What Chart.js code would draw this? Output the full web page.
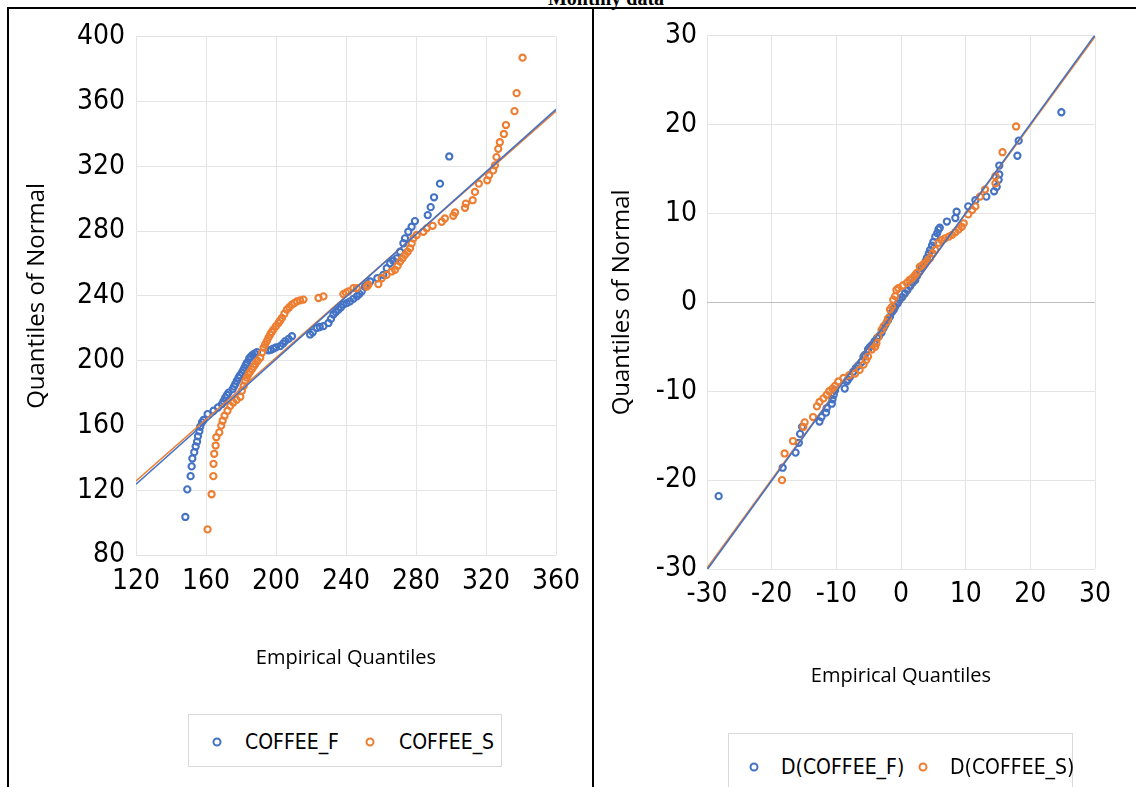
<!DOCTYPE html>
<html>
<head>
<meta charset="utf-8">
<script src="https://cdn.jsdelivr.net/npm/chart.js@4.4.0/dist/chart.umd.min.js"></script>
<style>
  html, body { margin: 0; padding: 0; background: #fff; }
  body { width: 1136px; height: 787px; position: relative; overflow: hidden; }
  .rule { position: absolute; background: #000; }
  .panel { position: absolute; top: 9px; }
  .title { position: absolute; top: -13px; left: 0; width: 1212px; text-align: center;
           font: bold 20px "Liberation Serif", "Times New Roman", serif; color: #000; }
  .legend { position: absolute; border: 1px solid #d9d9d9; box-sizing: border-box; background: #fff;
            font-family: "Liberation Sans Narrow", "DejaVu Sans Condensed", sans-serif; font-size: 21px; color: #000; }
  .legend .mk { position: absolute; width: 5px; height: 5px; border-radius: 50%; border: 2px solid; transform: translate(-50%, -50%); }
  .legend .tx { position: absolute; transform: translateY(-50%); white-space: nowrap; line-height: 1; }
</style>
</head>
<body>
<div class="title">Monthly data</div>
<div class="rule" style="left:7px; top:7px; width:1129px; height:2px;"></div>
<div class="rule" style="left:7px; top:7px; width:2px; height:780px;"></div>
<div class="rule" style="left:592px; top:7px; width:2px; height:780px;"></div>

<canvas id="left" class="panel" style="left:9px;" width="583" height="778"></canvas>
<canvas id="right" class="panel" style="left:595px;" width="541" height="778"></canvas>

<div class="legend" style="left:188px; top:714px; width:314px; height:53px;">
  <span class="mk" style="left:28px; top:27px; border-color:#4472C4;"></span>
  <span class="tx" style="left:56px; top:27px;">COFFEE_F</span>
  <span class="mk" style="left:181px; top:27px; border-color:#ED7D31;"></span>
  <span class="tx" style="left:210px; top:27px;">COFFEE_S</span>
</div>
<div class="legend" style="left:728px; top:733px; width:345px; height:60px;">
  <span class="mk" style="left:25px; top:33px; border-color:#4472C4;"></span>
  <span class="tx" style="left:52px; top:33px;">D(COFFEE_F)</span>
  <span class="mk" style="left:194px; top:33px; border-color:#ED7D31;"></span>
  <span class="tx" style="left:221px; top:33px;">D(COFFEE_S)</span>
</div>

<script>
// levels: empirical quantile (x) vs normal quantile (y)
const COFFEE_F_X = [148.2, 149.3, 151.2, 151.8, 152.2, 153.3, 154.1, 154.9, 155.4, 156.2, 156.7, 157.7, 158.6, 160.9,
  164.3, 166.8, 169.1, 170.0, 171.0, 172.0, 172.9, 175.2, 176.0, 176.7, 177.6, 178.6, 179.5, 180.5, 181.3, 182.0,
  182.7, 183.4, 184.7, 185.6, 186.6, 187.8, 189.1, 195.7, 197.1, 198.5, 200.0, 202.4, 204.0, 205.3, 207.2, 209.1,
  219.5, 221.0, 223.3, 225.0, 227.1, 230.0, 231.4, 232.8, 234.2, 235.7, 237.1, 238.5, 240.4, 242.3, 244.2, 246.2,
  247.6, 249.0, 250.9, 252.3, 253.8, 257.9, 261.3, 263.3, 265.2, 267.0, 269.0, 270.9, 272.8, 273.7, 275.6, 277.5,
  279.4, 286.7, 288.4, 290.3, 293.7, 299.0];
const COFFEE_F_Y = [103.5, 120.5, 128.7, 134.7, 139.6, 143.5, 147.0, 150.0, 153.3, 156.4, 159.2, 161.9, 163.4, 167.0,
  169.1, 171.1, 173.2, 175.0, 177.2, 178.8, 180.3, 182.4, 184.0, 185.5, 187.5, 189.5, 191.0, 192.6, 194.2, 195.7,
  197.2, 198.7, 201.4, 202.5, 203.5, 204.4, 205.3, 206.4, 206.7, 207.5, 208.2, 209.0, 210.5, 212.1, 213.5, 215.1,
  216.2, 217.5, 220.2, 220.8, 221.3, 223.3, 225.8, 228.5, 230.0, 231.5, 233.0, 234.6, 235.5, 236.6, 238.2, 239.7,
  241.2, 242.8, 245.8, 247.4, 248.9, 250.9, 253.0, 257.1, 260.2, 261.7, 263.2, 267.3, 272.5, 275.5, 279.6, 282.7,
  286.2, 289.9, 294.8, 300.9, 309.3, 326.1];

const COFFEE_S_X = [160.9, 163.2, 164.2, 164.3, 164.7, 165.5, 165.9, 167.6, 168.7, 169.5, 170.6, 172.3, 173.9, 175.6,
  177.5, 179.6, 180.5, 181.5, 182.4, 183.3, 184.3, 185.2, 186.2, 187.1, 188.1, 189.5, 191.0, 192.0, 192.9, 193.8,
  194.8, 195.7, 196.7, 197.6, 198.6, 200.0, 201.4, 202.4, 203.4, 204.8, 206.2, 207.6, 209.1, 210.5, 211.9, 213.8,
  215.7, 224.3, 227.1, 238.5, 240.0, 241.4, 244.2, 246.2, 251.9, 252.8, 258.5, 260.4, 263.2, 266.1, 268.0, 269.5,
  270.9, 272.3, 273.7, 275.2, 276.6, 277.5, 278.5, 280.4, 284.2, 286.1, 289.5, 294.7, 296.5, 301.3, 302.3, 308.0,
  308.5, 312.4, 313.7, 315.9, 320.7, 321.8, 324.1, 325.1, 326.0, 327.0, 327.9, 330.2, 331.4, 336.3, 337.5, 340.9];
const COFFEE_S_Y = [95.8, 117.5, 128.7, 136.3, 142.5, 147.6, 152.7, 155.7, 159.9, 162.9, 166.0, 169.1, 172.1, 174.2,
  175.8, 177.7, 181.4, 184.4, 187.5, 189.5, 191.6, 193.2, 194.7, 196.2, 197.8, 199.8, 201.8, 205.0, 208.0, 210.0,
  212.1, 214.2, 216.2, 217.7, 219.3, 221.3, 223.3, 224.8, 226.4, 229.0, 231.5, 233.0, 234.6, 235.6, 236.6, 237.2,
  237.7, 238.7, 239.7, 241.1, 242.0, 242.8, 244.8, 244.8, 245.8, 246.9, 247.3, 250.9, 253.0, 255.1, 256.1, 258.6,
  261.2, 263.2, 265.3, 267.3, 269.4, 272.4, 275.5, 277.6, 279.6, 281.7, 283.3, 285.8, 287.8, 289.5, 291.5, 294.4,
  297.0, 299.1, 304.2, 309.3, 311.4, 314.5, 317.5, 320.6, 325.7, 330.8, 334.9, 340.0, 345.5, 354.1, 365.2, 387.1];

// linear trend lines, end points at the axis limits
const TREND_F_LEVEL = [123.7, 355.2];
const TREND_S_LEVEL = [125.7, 354.0];
const LEVEL_X_ENDS = [120, 360];

// first differences
const D_COFFEE_F_X = [-28.2, -18.3, -16.3, -15.8, -15.6, -15.3, -12.6, -12.3, -11.6, -11.5, -10.7, -10.6, -10.4, -10.2,
  -8.7, -8.4, -8.2, -7.9, -7.4, -7.0, -6.6, -6.1, -5.8, -5.6, -5.1, -4.8, -4.5, -4.1, -3.7, -3.4, -3.0, -2.7, -2.4,
  -2.0, -1.7, -1.4, -1.1, -0.9, -0.5, -0.2, 0.2, 0.6, 1.0, 1.4, 1.8, 2.2, 2.5, 2.9, 3.2, 3.5, 3.8, 4.0, 4.3, 4.5,
  4.8, 5.0, 5.3, 5.6, 5.8, 6.0, 7.1, 8.4, 8.6, 10.4, 11.5, 13.2, 14.4, 14.8, 15.1, 15.2, 15.2, 18.0, 18.2, 24.8];
const D_COFFEE_F_Y = [-21.8, -18.6, -16.9, -15.8, -14.8, -14.0, -13.4, -12.9, -12.4, -11.9, -11.4, -10.9, -10.4, -9.9,
  -9.7, -8.9, -8.7, -8.4, -7.8, -7.4, -7.1, -6.7, -6.1, -5.9, -5.3, -5.0, -4.8, -4.4, -4.0, -3.8, -3.4, -2.9, -2.5,
  -2.0, -1.6, -1.1, -0.8, -0.5, -0.1, 0.3, 0.6, 1.0, 1.4, 1.8, 2.2, 2.5, 3.0, 3.5, 3.9, 4.2, 4.6, 5.0, 5.5, 5.9,
  6.4, 6.8, 7.4, 7.8, 8.2, 8.4, 9.1, 9.5, 10.2, 10.8, 11.5, 11.9, 12.5, 13.0, 13.8, 14.4, 15.4, 16.5, 18.2, 21.4];

const D_COFFEE_S_X = [-18.4, -18.0, -16.7, -15.1, -14.9, -13.6, -13.0, -12.6, -12.0, -11.5, -11.1, -10.6, -10.2, -9.7,
  -8.9, -8.0, -7.1, -6.4, -5.8, -5.4, -5.1, -4.5, -4.0, -3.8, -3.5, -3.0, -2.7, -2.2, -2.0, -1.7, -1.4, -1.2, -0.9,
  -0.7, -0.4, 0.3, 0.9, 1.3, 1.7, 2.1, 2.4, 2.9, 3.3, 3.7, 4.1, 4.5, 4.9, 5.3, 5.8, 6.3, 6.8, 7.4, 7.9, 8.4, 8.9,
  9.4, 9.7, 10.4, 11.0, 11.5, 12.2, 13.0, 14.6, 14.6, 15.7, 17.8];
const D_COFFEE_S_Y = [-20.0, -17.0, -15.6, -14.0, -13.5, -12.9, -11.7, -11.2, -10.8, -10.4, -10.0, -9.7, -9.4, -8.9,
  -8.5, -8.2, -8.0, -7.6, -7.0, -6.5, -6.1, -5.3, -5.0, -4.6, -3.9, -3.1, -2.7, -2.2, -1.8, -0.8, -0.5, 0.3, 0.7,
  1.4, 1.6, 1.9, 2.2, 2.5, 2.7, 3.0, 3.3, 4.0, 4.2, 4.4, 4.7, 5.0, 5.5, 5.9, 6.7, 7.0, 7.2, 7.4, 7.6, 7.9, 8.2,
  8.5, 8.9, 9.9, 10.4, 10.8, 11.9, 12.7, 13.4, 14.2, 16.9, 19.8];

const TREND_DF = [-30.1, 30.1];
const TREND_DS = [-29.9, 29.9];
const DIFF_X_ENDS = [-30, 30];

const LEVEL_X_TICKS = [120, 160, 200, 240, 280, 320, 360];
const LEVEL_Y_TICKS = [80, 120, 160, 200, 240, 280, 320, 360, 400];
const DIFF_TICKS = [-30, -20, -10, 0, 10, 20, 30];

const BLUE = '#4472C4';
const ORANGE = '#ED7D31';
const TICK_FONT = { family: '"Liberation Sans Narrow", "DejaVu Sans Condensed", sans-serif', size: 28 };
const TITLE_FAMILY = '"Open Sans", "Noto Sans", sans-serif';

const pairs = (xs, ys) => xs.map((x, i) => ({ x, y: ys[i] }));

function pointSet(label, xs, ys, color) {
  return {
    label, data: pairs(xs, ys), borderColor: color, backgroundColor: 'rgba(255,255,255,0)',
    pointRadius: 3.1, pointBorderWidth: 2.1, pointHoverRadius: 3.1, showLine: false,
  };
}

function trendSet(label, xs, ys, color) {
  return {
    label, data: pairs(xs, ys), borderColor: color, borderWidth: 1.6,
    pointRadius: 0, showLine: true, fill: false,
  };
}

function buildChart(id, cfg) {
  return new Chart(document.getElementById(id), {
    type: 'scatter',
    data: { datasets: cfg.datasets },
    options: {
      responsive: false,
      animation: false,
      layout: { padding: cfg.padding },
      plugins: { legend: { display: false }, tooltip: { enabled: false } },
      scales: {
        x: {
          type: 'linear', min: cfg.xTicks[0], max: cfg.xTicks[cfg.xTicks.length - 1],
          afterBuildTicks: (s) => { s.ticks = cfg.xTicks.map((v) => ({ value: v })); },
          afterFit: (s) => { s.height = cfg.xHeight; },
          border: { display: false },
          grid: { color: '#e4e4e4', lineWidth: 1, drawTicks: false },
          ticks: { color: '#000', font: TICK_FONT, padding: cfg.xPad, maxRotation: 0, autoSkip: false, callback: (v) => String(v) },
          title: { display: true, text: 'Empirical Quantiles', color: '#000',
            font: { family: TITLE_FAMILY, size: 20 }, padding: { top: 0, bottom: cfg.xTitlePad } },
        },
        y: {
          type: 'linear', min: cfg.yTicks[0], max: cfg.yTicks[cfg.yTicks.length - 1],
          afterBuildTicks: (s) => { s.ticks = cfg.yTicks.map((v) => ({ value: v })); },
          afterFit: (s) => { s.width = cfg.yWidth; },
          border: { display: false },
          grid: { color: (c) => (cfg.zeroLine && c.tick && c.tick.value === 0 ? '#bfbfbf' : '#e4e4e4'), lineWidth: 1, drawTicks: false },
          ticks: { color: '#000', font: TICK_FONT, padding: cfg.yPad, autoSkip: false, callback: (v) => String(v) },
          title: { display: true, text: 'Quantiles of Normal', color: '#000',
            font: { family: TITLE_FAMILY, size: 24 }, padding: { top: cfg.yTitlePad, bottom: 0 } },
        },
      },
    },
  });
}

buildChart('left', {
  datasets: [
    trendSet('Linear (COFFEE_F)', LEVEL_X_ENDS, TREND_F_LEVEL, BLUE),
    trendSet('Linear (COFFEE_S)', LEVEL_X_ENDS, TREND_S_LEVEL, ORANGE),
    pointSet('COFFEE_S', COFFEE_S_X, COFFEE_S_Y, ORANGE),
    pointSet('COFFEE_F', COFFEE_F_X, COFFEE_F_Y, BLUE),
  ],
  xTicks: LEVEL_X_TICKS, yTicks: LEVEL_Y_TICKS,
  padding: { left: 0, top: 25, right: 36, bottom: 112 },
  yWidth: 127, xHeight: 120, xPad: 10, yPad: 11, xTitlePad: 5, yTitlePad: 14, zeroLine: false,
});

buildChart('right', {
  datasets: [
    trendSet('Linear (D(COFFEE_F))', DIFF_X_ENDS, TREND_DF, BLUE),
    trendSet('Linear (D(COFFEE_S))', DIFF_X_ENDS, TREND_DS, ORANGE),
    pointSet('D(COFFEE_S)', D_COFFEE_S_X, D_COFFEE_S_Y, ORANGE),
    pointSet('D(COFFEE_F)', D_COFFEE_F_X, D_COFFEE_F_Y, BLUE),
  ],
  xTicks: DIFF_TICKS, yTicks: DIFF_TICKS,
  padding: { left: 0, top: 26, right: 41, bottom: 97 },
  yWidth: 112, xHeight: 121, xPad: 9, yPad: 10, xTitlePad: 2, yTitlePad: 13, zeroLine: true,
});
</script>
</body>
</html>
